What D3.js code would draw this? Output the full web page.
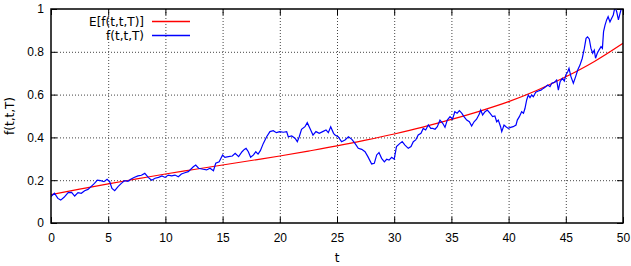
<!DOCTYPE html>
<html lang="en">
<head>
<meta charset="UTF-8">
<title>f(t,t,T)</title>
<style>
html, body { margin: 0; padding: 0; background: #fff; }
svg { display: block; font-family: "DejaVu Sans", sans-serif; }
.tick text { font-size: 12px; fill: #000; }
.grid .tick line { stroke: #444; stroke-dasharray: 1 2; stroke-width: 1; }
.grid .domain { display: none; }
.grid text { display: none; }
.axis .domain { display: none; }
.axis .tick line { stroke: #000; stroke-width: 1; }
.meanLine { fill: none; stroke: #ff0000; stroke-width: 1.2; }
.pathLine { fill: none; stroke: #0000ff; stroke-width: 1.2; }
.legendLine { stroke-width: 1.4; }
.label { font-size: 12px; fill: #000; }
</style>
</head>
<body>
<div id="graph"></div>
<script src="https://d3js.org/d3.v7.min.js"></script>
<script>

// tick values
const xTicks = [0, 5, 10, 15, 20, 25, 30, 35, 40, 45, 50];
const yTicks = [0, 0.2, 0.4, 0.6, 0.8, 1];

// E[f(t,t,T)]
const meanT = [0, 2.5, 5, 7.5, 10, 12.5, 15, 17.5, 20, 22.5, 25, 27.5, 30, 32.5, 35, 37.5, 40, 42.5, 45, 47.5, 50];
const meanV = [0.133, 0.158, 0.183, 0.206, 0.229, 0.25, 0.271, 0.292, 0.313, 0.336, 0.36, 0.387, 0.416, 0.448, 0.484, 0.523, 0.567, 0.62, 0.683, 0.755, 0.84];

// f(t,t,T) sample path
const pathT = [0, 0.3, 0.6, 0.85, 1.14, 1.5, 1.8, 2.07, 2.36, 2.65, 2.94, 3.23, 3.5, 3.8, 4.05, 4.34, 4.63, 4.9, 5.13, 5.33,
    5.57, 5.86, 6.15, 6.44, 6.73, 6.97, 7.26, 7.6, 7.9, 8.2, 8.5, 8.8, 9.1, 9.4, 9.7, 9.97, 10.25, 10.55, 10.84, 11.13,
    11.4, 11.7, 12.0, 12.44, 12.65, 12.9, 13.3, 13.6, 13.9, 14.2, 14.4, 14.7, 15.0, 15.2, 15.5, 15.85, 16.1, 16.4, 16.7, 16.9,
    17.05, 17.25, 17.45, 17.7, 17.9, 18.1, 18.3, 18.56, 18.85, 19.14, 19.43, 19.7, 20.0, 20.3, 20.6, 20.74, 21.04, 21.33, 21.53, 21.7,
    21.9, 22.2, 22.4, 22.64, 22.9, 23.16, 23.45, 23.75, 24.04, 24.24, 24.45, 24.7, 24.83, 25.1, 25.4, 25.7, 26.0, 26.3, 26.57, 26.86,
    27.16, 27.45, 27.7, 28.03, 28.26, 28.47, 28.67, 28.9, 29.14, 29.34, 29.55, 29.78, 30.0, 30.2, 30.5, 30.7, 30.94, 31.23, 31.47, 31.67,
    31.88, 32.1, 32.34, 32.54, 32.75, 32.98, 33.2, 33.37, 33.57, 33.77, 34.0, 34.24, 34.44, 34.64, 34.88, 35.1, 35.3, 35.5, 35.7, 35.9,
    36.1, 36.34, 36.57, 36.77, 36.98, 37.2, 37.44, 37.56, 37.73, 37.94, 38.14, 38.37, 38.6, 38.8, 38.96, 39.1, 39.3, 39.4, 39.6, 39.77,
    39.97, 40.18, 40.4, 40.65, 40.76, 40.94, 41.14, 41.3, 41.43, 41.58, 41.72, 41.87, 42.02, 42.16, 42.37, 42.6, 42.83, 43.03, 43.24, 43.42,
    43.62, 43.77, 44.0, 44.2, 44.35, 44.5, 44.7, 44.87, 45.0, 45.17, 45.28, 45.45, 45.66, 45.86, 46.04, 46.24, 46.44, 46.62, 46.77, 46.9,
    47.05, 47.2, 47.35, 47.49, 47.6, 47.75, 47.9, 48.08, 48.2, 48.3, 48.43, 48.57, 48.7, 48.86, 49.0, 49.15, 49.3, 49.45, 49.6, 49.74,
    49.9, 50.0];
const pathV = [0.123, 0.139, 0.115, 0.107, 0.12, 0.142, 0.143, 0.126, 0.142, 0.139, 0.151, 0.157, 0.17, 0.185, 0.2, 0.198, 0.193, 0.204, 0.193, 0.162,
    0.151, 0.17, 0.185, 0.198, 0.195, 0.204, 0.213, 0.22, 0.223, 0.232, 0.213, 0.2, 0.209, 0.213, 0.22, 0.213, 0.224, 0.22, 0.224, 0.216,
    0.229, 0.235, 0.24, 0.263, 0.271, 0.256, 0.251, 0.248, 0.256, 0.244, 0.279, 0.286, 0.318, 0.307, 0.31, 0.313, 0.326, 0.31, 0.333, 0.344,
    0.349, 0.333, 0.307, 0.318, 0.333, 0.322, 0.338, 0.372, 0.403, 0.427, 0.431, 0.422, 0.427, 0.424, 0.427, 0.403, 0.407, 0.396, 0.38, 0.403,
    0.438, 0.45, 0.469, 0.442, 0.411, 0.427, 0.419, 0.427, 0.435, 0.422, 0.45, 0.419, 0.411, 0.403, 0.38, 0.388, 0.403, 0.391, 0.372, 0.349,
    0.344, 0.333, 0.31, 0.276, 0.279, 0.318, 0.329, 0.302, 0.286, 0.298, 0.294, 0.307, 0.298, 0.357, 0.372, 0.38, 0.364, 0.349, 0.357, 0.38,
    0.388, 0.411, 0.419, 0.442, 0.435, 0.458, 0.442, 0.442, 0.438, 0.45, 0.481, 0.466, 0.447, 0.481, 0.497, 0.485, 0.52, 0.513, 0.525, 0.513,
    0.497, 0.481, 0.473, 0.453, 0.473, 0.485, 0.509, 0.528, 0.505, 0.52, 0.528, 0.513, 0.497, 0.5, 0.473, 0.481, 0.45, 0.427, 0.458, 0.45,
    0.442, 0.447, 0.45, 0.458, 0.481, 0.497, 0.52, 0.513, 0.535, 0.575, 0.598, 0.586, 0.598, 0.59, 0.611, 0.617, 0.621, 0.629, 0.637, 0.645,
    0.637, 0.653, 0.657, 0.668, 0.621, 0.66, 0.676, 0.663, 0.692, 0.707, 0.723, 0.684, 0.653, 0.684, 0.715, 0.738, 0.77, 0.816, 0.863, 0.87,
    0.86, 0.816, 0.793, 0.808, 0.77, 0.793, 0.808, 0.824, 0.816, 0.894, 0.925, 0.949, 0.964, 0.94, 0.956, 0.972, 1.01, 0.987, 0.949, 0.98,
    1.01, 1.0];

const width = 631;
const height = 266;
const margin = { top: 9, right: 8, bottom: 43, left: 51 };
const chartWidth = width - margin.left - margin.right;
const chartHeight = height - margin.top - margin.bottom;

const svg = d3.select("#graph").append("svg")
    .attr("width", width)
    .attr("height", height);

const xScale = d3.scaleLinear().domain([0, 50]).range([0, chartWidth]);
const yScale = d3.scaleLinear().domain([0, 1]).range([chartHeight, 0]);

svg.append("defs").append("clipPath").attr("id", "plotClip")
    .append("rect")
    .attr("width", chartWidth)
    .attr("height", chartHeight);

const chartLayer = svg.append("g")
    .attr("transform", `translate(${margin.left}, ${margin.top})`);

// grid
chartLayer.append("g").attr("class", "grid")
    .attr("transform", `translate(0, ${chartHeight})`)
    .call(d3.axisBottom(xScale).tickValues(xTicks.slice(1, -1)).tickSize(-chartHeight));
chartLayer.append("g").attr("class", "grid")
    .call(d3.axisLeft(yScale).tickValues(yTicks.slice(1, -1)).tickSize(-chartWidth));

// axes with inward ticks, mirrored
chartLayer.append("g").attr("class", "axis x")
    .attr("transform", `translate(0, ${chartHeight})`)
    .call(d3.axisBottom(xScale).tickValues(xTicks).tickSizeInner(-6).tickSizeOuter(0).tickPadding(10).tickFormat(d3.format("d")));
chartLayer.append("g").attr("class", "axis")
    .call(d3.axisTop(xScale).tickValues(xTicks).tickSizeInner(-6).tickSizeOuter(0).tickFormat(""));
chartLayer.append("g").attr("class", "axis y")
    .call(d3.axisLeft(yScale).tickValues(yTicks).tickSizeInner(-6).tickSizeOuter(0).tickPadding(7).tickFormat(d => d === 0 || d === 1 ? d3.format("d")(d) : d3.format(".1f")(d)));
chartLayer.append("g").attr("class", "axis")
    .attr("transform", `translate(${chartWidth}, 0)`)
    .call(d3.axisRight(yScale).tickValues(yTicks).tickSizeInner(-6).tickSizeOuter(0).tickFormat(""));

// lines
const meanData = meanT.map((t, i) => ({ t: t, v: meanV[i] }));
const pathData = pathT.map((t, i) => ({ t: t, v: pathV[i] }));

const plotLayer = chartLayer.append("g").attr("clip-path", "url(#plotClip)");

plotLayer.append("path")
    .datum(meanData)
    .attr("class", "meanLine")
    .attr("d", d3.line().x(d => xScale(d.t)).y(d => yScale(d.v)).curve(d3.curveMonotoneX));

plotLayer.append("path")
    .datum(pathData)
    .attr("class", "pathLine")
    .attr("d", d3.line().x(d => xScale(d.t)).y(d => yScale(d.v)));

// border
chartLayer.append("rect")
    .attr("width", chartWidth)
    .attr("height", chartHeight)
    .attr("fill", "none")
    .attr("stroke", "#000")
    .attr("stroke-width", 1.5);

// legend
const legendItems = [
    { name: "E[f(t,t,T)]", color: "#ff0000" },
    { name: "f(t,t,T)", color: "#0000ff" }
];
const legend = svg.append("g");
legendItems.forEach((item, i) => {
    const y = 21.5 + i * 14;
    legend.append("text")
        .attr("class", "label")
        .attr("x", 144)
        .attr("y", y)
        .attr("dy", "0.36em")
        .attr("text-anchor", "end")
        .text(item.name);
    legend.append("line")
        .attr("class", "legendLine")
        .attr("x1", 152).attr("x2", 190)
        .attr("y1", y).attr("y2", y)
        .style("stroke", item.color);
});

// axis titles
svg.append("text")
    .attr("class", "label")
    .attr("x", margin.left + chartWidth / 2)
    .attr("y", 258)
    .attr("dy", "0.36em")
    .attr("text-anchor", "middle")
    .text("t");

svg.append("text")
    .attr("class", "label")
    .attr("transform", `translate(10, ${margin.top + chartHeight / 2}) rotate(-90)`)
    .attr("dy", "0.36em")
    .attr("text-anchor", "middle")
    .text("f(t,t,T)");

</script>
</body>
</html>
